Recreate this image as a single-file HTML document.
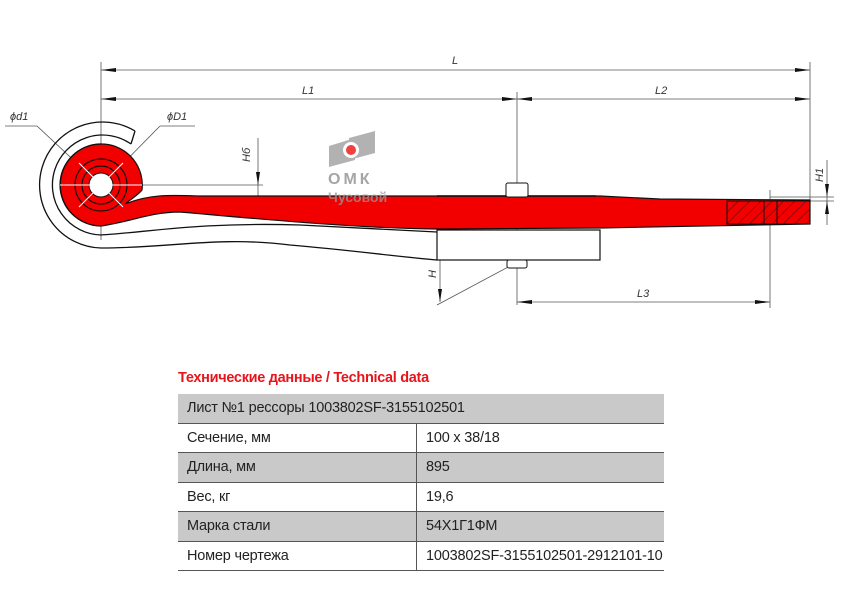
<!DOCTYPE html>
<html><head><meta charset="utf-8"><style>
body{margin:0;background:#fff;width:842px;height:595px;overflow:hidden;position:relative;font-family:"Liberation Sans",sans-serif}
svg{position:absolute;left:0;top:0}
.t{position:absolute;left:178px;top:370px;color:#e8141b;font-weight:bold;font-size:14.5px;letter-spacing:-0.3px}
table{position:absolute;left:178px;top:394px;width:486px;border-collapse:collapse;font-size:14.5px;color:#222;letter-spacing:-0.2px}
td{height:28.5px;padding:0 0 0 9px;border-bottom:1px solid #555;white-space:nowrap}
tr.g td{background:#c9c9c9}
td.a{width:229px;border-right:1px solid #555}
</style></head><body>
<svg width="842" height="595" viewBox="0 0 842 595">
<g stroke="#555" stroke-width="0.8" fill="none">
<line x1="101" y1="62" x2="101" y2="240"/>
<line x1="517" y1="92" x2="517" y2="305"/>
<line x1="810" y1="62" x2="810" y2="200"/>
<line x1="770" y1="190" x2="770" y2="308"/>
<line x1="101" y1="70" x2="810" y2="70"/>
<line x1="101" y1="99" x2="810" y2="99"/>
<line x1="517" y1="302" x2="770" y2="302"/>
<line x1="101" y1="185" x2="263" y2="185"/>
<line x1="258" y1="138" x2="258" y2="218"/>
<line x1="827" y1="160" x2="827" y2="225"/>
<line x1="770" y1="197" x2="834" y2="197"/>
<line x1="770" y1="201" x2="834" y2="201"/>
<line x1="440" y1="236" x2="440" y2="302"/>
<line x1="437" y1="240" x2="517" y2="196"/>
<line x1="437" y1="305" x2="510" y2="266"/>
<line x1="5" y1="126" x2="37" y2="126"/><line x1="37" y1="126" x2="98" y2="183"/>
<line x1="195" y1="126" x2="160" y2="126"/><line x1="160" y1="126" x2="104" y2="183"/>
</g>
<g fill="#111">
<polygon points="101,70 116,68 116,72"/><polygon points="810,70 795,68 795,72"/>
<polygon points="101,99 116,97 116,101"/><polygon points="517,99 502,97 502,101"/>
<polygon points="517,99 532,97 532,101"/><polygon points="810,99 795,97 795,101"/>
<polygon points="517,302 532,300 532,304"/><polygon points="770,302 755,300 755,304"/>
<polygon points="258,185 256,172 260,172"/><polygon points="258,198 256,212 260,212"/>
<polygon points="440,240 438,253 442,253"/><polygon points="440,302 438,289 442,289"/>
<polygon points="827,197 825,184 829,184"/><polygon points="827,201 825,214 829,214"/>
</g>
<g font-family="Liberation Sans" font-style="italic" font-size="11" fill="#333">
<text x="452" y="64">L</text><text x="302" y="94">L1</text><text x="655" y="94">L2</text><text x="637" y="297">L3</text>
<text x="10" y="120">ϕd1</text><text x="167" y="120">ϕD1</text>
<text transform="translate(250,162) rotate(-90)">Hб</text>
<text transform="translate(436,278) rotate(-90)">H</text>
<text transform="translate(823,182) rotate(-90)">H1</text>
</g>
<path d="M135,131 A63,63 0 1 0 101,248 C170,248 220,236 290,245 C350,250 400,257 437,260" fill="none" stroke="#111" stroke-width="1.3"/>
<path d="M135,131 L131,144" stroke="#111" stroke-width="1.3"/>
<path d="M131,144 A50,50 0 1 0 101,235 C150,232 200,222 300,225 L437,232" fill="none" stroke="#111" stroke-width="1.3"/>
<rect x="437" y="230" width="163" height="30" fill="#fff" stroke="#111" stroke-width="1.2"/>
<path d="M101,226 A41,41 0 1 1 142,190 C138,195 130,200 125,204 C150,194 170,195 200,196 L437,196 L600,196 L660,199 L810,200 L810,224 L600,228 L437,229 C350,228 250,218 180,212 C150,212 130,222 101,226 Z" fill="#f20000" stroke="#111" stroke-width="1.2"/>
<path d="M101,226 A41,41 0 0 1 101,144" fill="none" stroke="#111" stroke-width="1.2"/>
<g fill="none" stroke="#111" stroke-width="1.2">
<circle cx="101" cy="185" r="26"/><circle cx="101" cy="185" r="19"/>
</g>
<circle cx="101" cy="185" r="12" fill="#fff" stroke="#111"/>
<g stroke="#fff" stroke-width="1"><line x1="79" y1="163" x2="123" y2="207"/><line x1="123" y1="163" x2="79" y2="207"/><line x1="60" y1="185" x2="142" y2="185"/></g>
<defs><pattern id="h" width="8" height="8" patternUnits="userSpaceOnUse" patternTransform="rotate(45)"><line x1="0" y1="0" x2="0" y2="8" stroke="#111" stroke-width="0.8"/></pattern></defs>
<rect x="727" y="201" width="83" height="23" fill="url(#h)" stroke="#111"/>
<line x1="764" y1="201" x2="764" y2="224" stroke="#111"/><line x1="777" y1="201" x2="777" y2="224" stroke="#111"/>
<line x1="437" y1="196" x2="596" y2="196" stroke="#111" stroke-width="1.5"/>
<rect x="506" y="183" width="22" height="14" rx="2" fill="#fff" stroke="#111"/>
<rect x="507" y="260" width="20" height="8" rx="2" fill="#fff" stroke="#111"/>
<g opacity="0.75"><polygon points="329,146 355,138 355,160 329,167" fill="#999"/><polygon points="349,138 375,131 375,153 349,160" fill="#999"/>
<circle cx="351" cy="150" r="8" fill="#fff"/><circle cx="351" cy="150" r="5" fill="#e00"/>
<text x="328" y="184" font-family="Liberation Sans" font-weight="bold" font-size="16" fill="#888" letter-spacing="3">ОМК</text>
<text x="328" y="202" font-family="Liberation Sans" font-weight="bold" font-size="14" fill="#999">Чусовой</text></g>
</svg>
<div class="t">Технические данные / Technical data</div>
<table>
<tr class="g"><td colspan="2">Лист №1 рессоры 1003802SF-3155102501</td></tr>
<tr><td class="a">Сечение, мм</td><td>100 х 38/18</td></tr>
<tr class="g"><td class="a">Длина, мм</td><td>895</td></tr>
<tr><td class="a">Вес, кг</td><td>19,6</td></tr>
<tr class="g"><td class="a">Марка стали</td><td>54Х1Г1ФМ</td></tr>
<tr><td class="a">Номер чертежа</td><td>1003802SF-3155102501-2912101-10</td></tr>
</table>
</body></html>
